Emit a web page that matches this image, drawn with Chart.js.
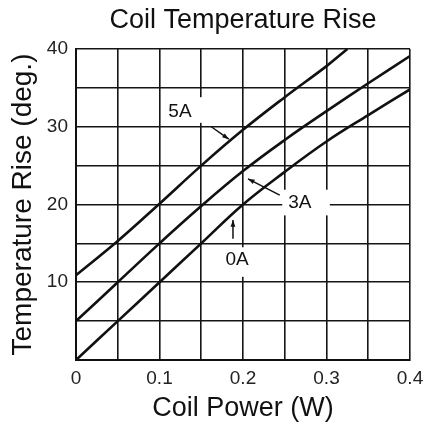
<!DOCTYPE html>
<html>
<head>
<meta charset="utf-8">
<script src="https://cdn.jsdelivr.net/npm/chart.js@4"></script>
<style>
html,body{margin:0;padding:0;background:#fff;}
#wrap{width:424px;height:427px;position:relative;}
</style>
</head>
<body>
<div id="wrap"><canvas id="c" width="424" height="427"></canvas></div>
<script>
// Data
const power = [0, 0.05, 0.1, 0.15, 0.2, 0.25, 0.3, 0.35, 0.4];
const rise0A = [0, 5, 10, 15, 20, 24.2, 28.1, 31.5, 34.8];
const rise3A = [5, 10, 15, 19.8, 24.3, 28.3, 32.0, 35.6, 39.1];
const power5A = [0, 0.05, 0.1, 0.15, 0.2, 0.25, 0.3, 0.325];
const rise5A = [10.9, 15.3, 20.1, 25, 29.6, 33.8, 37.8, 40];
const seriesLabels = ['0A', '3A', '5A'];
const xTicks = [0, 0.1, 0.2, 0.3, 0.4];
const yTicks = [10, 20, 30, 40];

// label annotations in data units: text position, white box, leader line (from -> arrow tip)
const notes = [
  {text: '5A', at: [0.1245, 31.9], box: [0.104, 33.8, 0.163, 30.5], line: [[0.162, 30.0], [0.183, 28.4]]},
  {text: '3A', at: [0.268, 20.2], box: [0.247, 21.9, 0.304, 18.6], line: [[0.244, 21.2], [0.206, 23.3]]},
  {text: '0A', at: [0.193, 12.9], box: [0.175, 14.5, 0.211, 10.7], line: [[0.188, 15.6], [0.188, 18.0]]}
];

const FONT = "'Liberation Sans', Arial, Helvetica, sans-serif";

const notePlugin = {
  id: 'notes',
  afterDatasetsDraw(chart) {
    const ctx = chart.ctx, xs = chart.scales.x, ys = chart.scales.y;
    ctx.save();
    notes.forEach(n => {
      const x1 = xs.getPixelForValue(n.box[0]), y1 = ys.getPixelForValue(n.box[1]);
      const x2 = xs.getPixelForValue(n.box[2]), y2 = ys.getPixelForValue(n.box[3]);
      ctx.fillStyle = '#fff';
      ctx.fillRect(x1, y1, x2 - x1, y2 - y1);
      ctx.fillStyle = '#111';
      ctx.font = '19px ' + FONT;
      ctx.textAlign = 'center';
      ctx.textBaseline = 'middle';
      ctx.fillText(n.text, xs.getPixelForValue(n.at[0]), ys.getPixelForValue(n.at[1]));
      const ax = xs.getPixelForValue(n.line[0][0]), ay = ys.getPixelForValue(n.line[0][1]);
      const bx = xs.getPixelForValue(n.line[1][0]), by = ys.getPixelForValue(n.line[1][1]);
      ctx.strokeStyle = '#111';
      ctx.lineWidth = 1.5;
      ctx.beginPath(); ctx.moveTo(ax, ay); ctx.lineTo(bx, by); ctx.stroke();
      const ang = Math.atan2(by - ay, bx - ax), L = 7, W = 0.35;
      ctx.beginPath();
      ctx.moveTo(bx, by);
      ctx.lineTo(bx - L * Math.cos(ang - W), by - L * Math.sin(ang - W));
      ctx.lineTo(bx - L * Math.cos(ang + W), by - L * Math.sin(ang + W));
      ctx.closePath(); ctx.fillStyle = '#111'; ctx.fill();
    });
    ctx.restore();
  }
};

const mk = (xsArr, ysArr) => xsArr.map((x, i) => ({x: x, y: ysArr[i]}));
const dsStyle = {borderColor: '#111', borderWidth: 2.6, pointRadius: 0, fill: false, tension: 0.4};

new Chart(document.getElementById('c'), {
  type: 'line',
  data: {
    datasets: [
      Object.assign({label: seriesLabels[0], data: mk(power, rise0A)}, dsStyle),
      Object.assign({label: seriesLabels[1], data: mk(power, rise3A)}, dsStyle),
      Object.assign({label: seriesLabels[2], data: mk(power5A, rise5A)}, dsStyle)
    ]
  },
  options: {
    responsive: false,
    animation: false,
    events: [],
    layout: {padding: {left: 0, right: 0, top: 0, bottom: 0}},
    plugins: {
      legend: {display: false},
      tooltip: {enabled: false},
      title: {
        display: true,
        fullSize: false,
        text: 'Coil Temperature Rise',
        color: '#111',
        font: {family: FONT, size: 27, weight: 'normal'},
        padding: {top: 4, bottom: 12.6}
      }
    },
    scales: {
      x: {
        type: 'linear',
        min: 0, max: 0.4,
        afterFit(s) { s.height = 67; s.paddingRight = 14; s.paddingLeft = 0; },
        afterBuildTicks(s) {
          const t = [];
          for (let i = 0; i <= 8; i++) t.push({value: i * 0.05});
          s.ticks = t;
        },
        ticks: {
          color: '#222',
          font: {family: FONT, size: 19},
          padding: 7,
          maxRotation: 0,
          autoSkip: false,
          callback(v) {
            const r = Math.round(v * 100) / 100;
            const hit = xTicks.find(t => Math.abs(t - r) < 1e-6);
            if (hit === undefined) return '';
            return hit === 0 ? '0' : hit.toFixed(1);
          }
        },
        grid: {color: '#151515', lineWidth: 1.6, drawTicks: false},
        border: {color: '#111', width: 2},
        title: {
          display: true, text: 'Coil Power (W)', color: '#111',
          font: {family: FONT, size: 27}, padding: {top: 0, bottom: 2}
        }
      },
      y: {
        type: 'linear',
        min: 0, max: 40,
        afterFit(s) { s.width = 76; s.paddingTop = 0; s.paddingBottom = 0; },
        afterBuildTicks(s) {
          const t = [];
          for (let i = 0; i <= 8; i++) t.push({value: i * 5});
          s.ticks = t;
        },
        ticks: {
          color: '#222',
          font: {family: FONT, size: 19},
          padding: 8,
          autoSkip: false,
          callback(v) { return yTicks.includes(v) ? String(v) : ''; }
        },
        grid: {color: '#151515', lineWidth: 1.6, drawTicks: false},
        border: {color: '#111', width: 2},
        title: {
          display: true, text: 'Temperature Rise (deg.)', color: '#111',
          font: {family: FONT, size: 28}, padding: {top: 6, bottom: 0}
        }
      }
    }
  },
  plugins: [notePlugin]
});
</script>
</body>
</html>
